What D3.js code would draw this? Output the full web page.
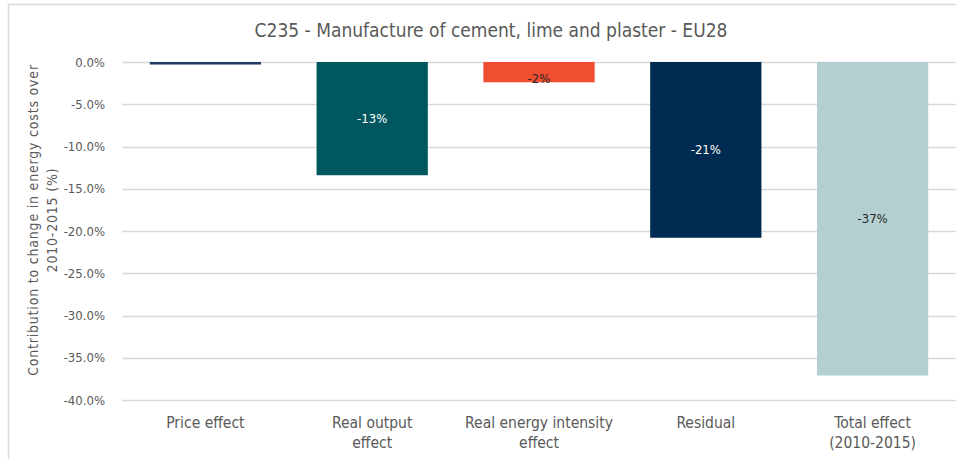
<!DOCTYPE html>
<html>
<head>
    <meta charset="utf-8">
    <title>C235 energy cost decomposition</title>
    <script src="https://d3js.org/d3.v7.min.js"></script>
    <style>
        body { margin: 0; background: #fff; }
        text { font-family: "DejaVu Sans Condensed", "DejaVu Sans", sans-serif; }
    </style>
</head>
<body>
<script>
    var width = 962, height = 459;

    var categories = ["Price effect", "Real output effect", "Real energy intensity effect", "Residual", "Total effect (2010-2015)"];
    var catLines = [["Price effect"], ["Real output", "effect"], ["Real energy intensity", "effect"], ["Residual"], ["Total effect", "(2010-2015)"]];
    var values = [-0.3, -13.4, -2.4, -20.8, -37.1];
    var labels = ["", "-13%", "-2%", "-21%", "-37%"];
    var barColors = ["#1f3b66", "#00575f", "#f04e30", "#002b50", "#b3cfcf"];
    var labelColors = ["#fff", "#fff", "#262626", "#fff", "#262626"];
    var yTicks = [0, -5, -10, -15, -20, -25, -30, -35, -40];

    var margin = {top: 62, right: 6, bottom: 59, left: 122};

    var svg = d3.select("body").append("svg")
        .attr("width", width)
        .attr("height", height);

    // outer frame
    svg.append("path")
        .attr("d", "M8.5," + height + "V4.5H" + (width - 6))
        .attr("fill", "none")
        .attr("stroke", "#d9d9d9")
        .attr("stroke-width", 1.5);

    var x = d3.scaleBand()
        .domain(categories)
        .range([margin.left, width - margin.right])
        .paddingInner(0.333)
        .paddingOuter(0.1665);

    var y = d3.scaleLinear()
        .domain([0, -40])
        .range([margin.top, height - margin.bottom]);

    // gridlines
    svg.append("g").selectAll("line")
        .data(yTicks)
        .join("line")
        .attr("x1", margin.left)
        .attr("x2", width - margin.right)
        .attr("y1", function(d) { return Math.round(y(d)) + 0.5; })
        .attr("y2", function(d) { return Math.round(y(d)) + 0.5; })
        .attr("stroke", "#d9d9d9")
        .attr("stroke-width", 1.3);

    // y axis labels
    var yAxis = svg.append("g")
        .attr("transform", "translate(" + (margin.left - 14) + ",0)")
        .call(d3.axisLeft(y).tickValues(yTicks).tickSize(0).tickFormat(function(d) { return d.toFixed(1) + "%"; }));
    yAxis.select(".domain").remove();
    yAxis.selectAll("text")
        .attr("font-family", "Open Sans")
        .attr("font-size", 13)
        .attr("fill", "#595959")
        .attr("dx", 0);

    // bars
    svg.append("g").selectAll("rect")
        .data(values)
        .join("rect")
        .attr("x", function(d, i) { return x(categories[i]); })
        .attr("width", x.bandwidth())
        .attr("y", y(0))
        .attr("height", function(d) { return y(d) - y(0); })
        .attr("fill", function(d, i) { return barColors[i]; });

    // data labels, centred in the bar (kept off the zero line for short bars)
    svg.append("g").selectAll("text")
        .data(values)
        .join("text")
        .attr("x", function(d, i) { return x(categories[i]) + x.bandwidth() / 2; })
        .attr("y", function(d) { return Math.max((y(0) + y(d)) / 2, y(0) + 16) + 4.5; })
        .attr("text-anchor", "middle")
        .attr("font-size", 13)
        .attr("fill", function(d, i) { return labelColors[i]; })
        .text(function(d, i) { return labels[i]; });

    // category labels
    var cat = svg.append("g").selectAll("text")
        .data(categories)
        .join("text")
        .attr("x", function(d) { return x(d) + x.bandwidth() / 2; })
        .attr("y", 428)
        .attr("text-anchor", "middle")
        .attr("font-size", 15.5)
        .attr("fill", "#595959");
    cat.each(function(d, i) {
        var t = d3.select(this);
        catLines[i].forEach(function(line, j) {
            t.append("tspan")
                .attr("x", x(d) + x.bandwidth() / 2)
                .attr("dy", j === 0 ? 0 : 20)
                .text(line);
        });
    });

    // y axis title
    var yTitle = svg.append("text")
        .attr("transform", "translate(38,220) rotate(-90)")
        .attr("text-anchor", "middle")
        .attr("font-family", "Open Sans")
        .attr("font-size", 14)
        .attr("letter-spacing", 0.8)
        .attr("fill", "#595959");
    yTitle.append("tspan").attr("x", 0).attr("dy", 0).text("Contribution to change in energy costs over");
    yTitle.append("tspan").attr("x", 0).attr("dy", 19).text("2010-2015 (%)");

    // title
    svg.append("text")
        .attr("x", 491)
        .attr("y", 37)
        .attr("text-anchor", "middle")
        .attr("font-size", 19)
        .attr("fill", "#595959")
        .text("C235 - Manufacture of cement, lime and plaster - EU28");
</script>
</body>
</html>
